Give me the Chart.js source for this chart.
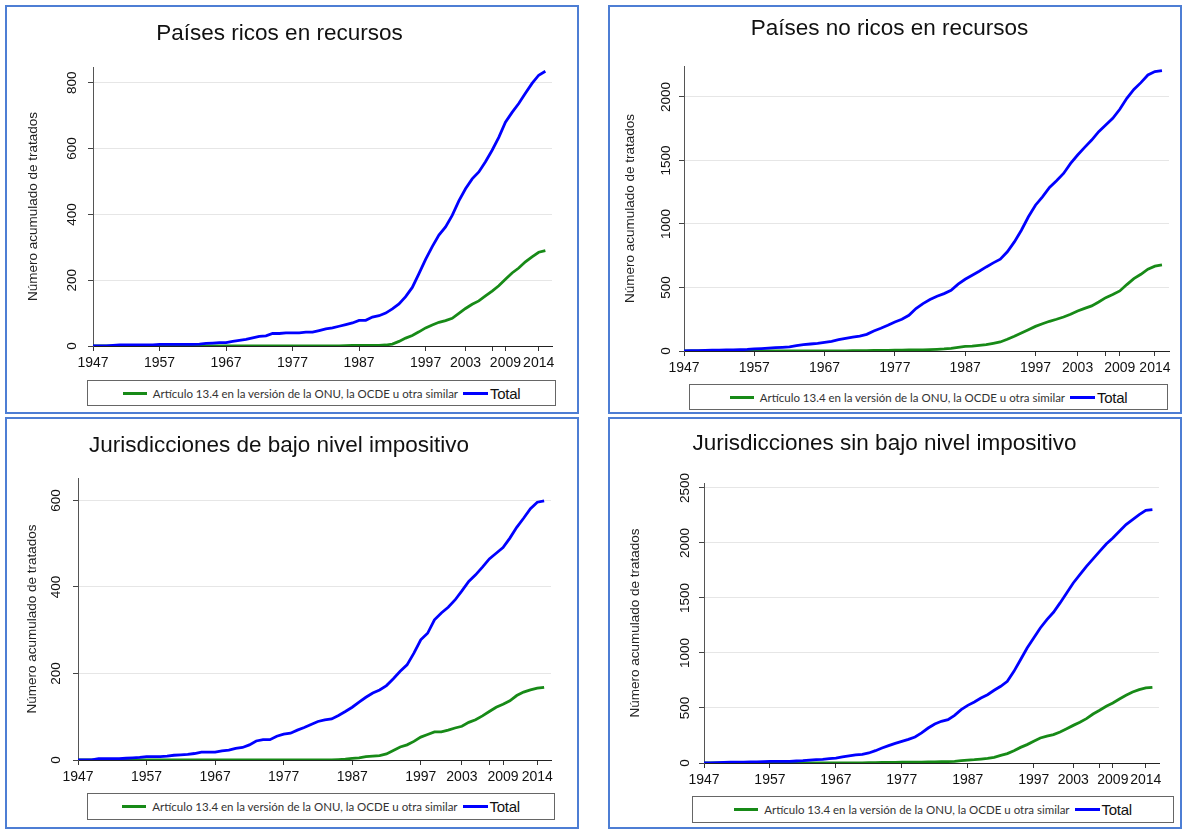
<!DOCTYPE html>
<html lang="es">
<head>
<meta charset="utf-8">
<title>Tratados acumulados</title>
<script src="https://cdn.jsdelivr.net/npm/chart.js@4.4.1/dist/chart.umd.min.js"></script>
<style>
  body { margin: 0; width: 1185px; height: 829px; background: #fff; position: relative; overflow: hidden; }
  .panel { position: absolute; box-sizing: border-box; border: 2px solid #4d7ed4; background: #fff; }
  .panel canvas { position: absolute; left: 0; top: 0; }
  .legend { position: absolute; box-sizing: border-box; border: 1.5px solid #666; background: #fff;
            display: flex; align-items: center; justify-content: center; }
  .item { display: flex; align-items: center; }
  .swatch { display: inline-block; height: 3px; }
  .item0 .swatch { width: 24px; margin-right: 6px; }
  .item0 .txt { font: 11.5px Lato, "Liberation Sans", sans-serif; color: #333; }
  .item1 { margin-left: 5px; }
  .item1 .swatch { width: 25px; margin-right: 2px; }
  .item1 .txt { font: 15px "Liberation Sans", Arial, sans-serif; color: #111; letter-spacing: -0.3px; }
</style>
</head>
<body>

<div class="panel" style="left:5px; top:5px; width:574px; height:409px;">
  <canvas id="c1" width="570" height="373"></canvas>
  <div class="legend" id="l1" style="left:80px; top:373px; width:469px; height:26px;"></div>
</div>
<div class="panel" style="left:608px; top:5px; width:574px; height:409px;">
  <canvas id="c2" width="570" height="377"></canvas>
  <div class="legend" id="l2" style="left:79px; top:377px; width:479px; height:26px;"></div>
</div>
<div class="panel" style="left:5px; top:417px; width:574px; height:412px;">
  <canvas id="c3" width="570" height="374"></canvas>
  <div class="legend" id="l3" style="left:80px; top:374px; width:468px; height:27px;"></div>
</div>
<div class="panel" style="left:608px; top:417px; width:574px; height:412px;">
  <canvas id="c4" width="570" height="377"></canvas>
  <div class="legend" id="l4" style="left:82px; top:377px; width:482px; height:27px;"></div>
</div>

<script>
// years 1947-2015
const years = [
  1947, 1948, 1949, 1950, 1951, 1952, 1953, 1954, 1955, 1956,
  1957, 1958, 1959, 1960, 1961, 1962, 1963, 1964, 1965, 1966,
  1967, 1968, 1969, 1970, 1971, 1972, 1973, 1974, 1975, 1976,
  1977, 1978, 1979, 1980, 1981, 1982, 1983, 1984, 1985, 1986,
  1987, 1988, 1989, 1990, 1991, 1992, 1993, 1994, 1995, 1996,
  1997, 1998, 1999, 2000, 2001, 2002, 2003, 2004, 2005, 2006,
  2007, 2008, 2009, 2010, 2011, 2012, 2013, 2014, 2015
];

const xTicks = [1947, 1957, 1967, 1977, 1987, 1997, 2003, 2007, 2009, 2014];
const xTickLabels = ["1947", "1957", "1967", "1977", "1987", "1997", "2003", "", "2009", "2014"];

const yTicks1 = [0, 200, 400, 600, 800];
const yTicks2 = [0, 500, 1000, 1500, 2000];
const yTicks3 = [0, 200, 400, 600];
const yTicks4 = [0, 500, 1000, 1500, 2000, 2500];

const titles = [
  "Países ricos en recursos",
  "Países no ricos en recursos",
  "Jurisdicciones de bajo nivel impositivo",
  "Jurisdicciones sin bajo nivel impositivo"
];
const seriesNames = ["Artículo 13.4 en la versión de la ONU, la OCDE u otra similar", "Total"];
const yTitle = "Número acumulado de tratados";

// Países ricos en recursos
const art1 = [
  0, 0, 0, 0, 0, 0, 0, 0, 0, 0,
  0, 0, 0, 0, 0, 0, 0, 0, 0, 0,
  0, 0, 0, 0, 0, 0, 0, 0, 0, 0,
  0, 0, 0, 0, 0, 0, 0, 0, 1, 2,
  2, 2, 2, 2, 3, 6, 14, 24, 32, 43,
  55, 64, 72, 77, 84, 99, 114, 127, 137, 152,
  167, 183, 203, 222, 237, 256, 271, 285, 290
];
const tot1 = [
  0, 0, 0, 2, 3, 3, 3, 3, 3, 3,
  5, 5, 5, 5, 5, 5, 6, 8, 9, 10,
  10, 14, 17, 20, 25, 29, 31, 38, 38, 40,
  40, 40, 42, 42, 47, 52, 55, 60, 65, 70,
  78, 78, 88, 92, 100, 113, 128, 150, 178, 220,
  263, 302, 337, 362, 397, 441, 478, 508, 529, 560,
  595, 634, 680, 710, 737, 768, 798, 823, 835
];

// Países no ricos en recursos
const art2 = [
  0, 0, 0, 0, 0, 0, 0, 0, 0, 0,
  0, 0, 0, 0, 0, 0, 0, 0, 0, 1,
  1, 1, 1, 1, 2, 2, 3, 4, 5, 5,
  6, 7, 8, 8, 9, 11, 13, 16, 21, 29,
  37, 39, 45, 50, 60, 71, 92, 116, 142, 168,
  194, 215, 234, 250, 268, 289, 315, 336, 355, 386,
  420, 444, 473, 523, 570, 604, 644, 668, 678
];
const tot2 = [
  0, 2, 3, 5, 6, 7, 8, 9, 10, 12,
  16, 19, 22, 26, 29, 33, 42, 50, 55, 60,
  68, 76, 89, 100, 110, 118, 131, 158, 179, 202,
  229, 250, 281, 334, 373, 405, 431, 452, 478, 526,
  565, 597, 628, 662, 694, 723, 781, 859, 951, 1057,
  1148, 1214, 1288, 1340, 1398, 1477, 1543, 1603, 1661, 1727,
  1779, 1832, 1903, 1990, 2060, 2113, 2173, 2200, 2208
];

// Jurisdicciones de bajo nivel impositivo
const art3 = [
  0, 0, 0, 0, 0, 0, 0, 0, 0, 0,
  0, 0, 0, 0, 0, 0, 0, 0, 0, 0,
  0, 0, 0, 0, 0, 0, 0, 0, 0, 0,
  0, 0, 0, 0, 0, 0, 0, 0, 1, 2,
  4, 5, 8, 9, 10, 14, 22, 30, 35, 43,
  53, 59, 65, 65, 69, 74, 78, 87, 93, 102,
  112, 122, 129, 137, 149, 157, 162, 166, 168
];
const tot3 = [
  0, 0, 0, 3, 3, 3, 3, 4, 5, 6,
  8, 8, 8, 9, 11, 12, 13, 15, 18, 18,
  18, 21, 23, 27, 29, 35, 44, 47, 47, 55,
  60, 62, 69, 75, 82, 89, 93, 95, 103, 112,
  122, 134, 145, 155, 162, 172, 188, 205, 220, 247,
  278, 293, 324, 340, 353, 370, 391, 413, 428, 446,
  465, 478, 491, 513, 538, 559, 581, 596, 599
];

// Jurisdicciones sin bajo nivel impositivo
const art4 = [
  0, 0, 0, 0, 0, 0, 0, 0, 0, 0,
  0, 0, 0, 0, 0, 0, 0, 0, 0, 0,
  0, 1, 1, 2, 2, 3, 4, 5, 5, 6,
  7, 7, 8, 8, 9, 10, 12, 13, 15, 21,
  27, 30, 36, 42, 52, 70, 85, 112, 142, 167,
  197, 227, 245, 258, 282, 312, 342, 370, 403, 445,
  479, 515, 545, 582, 615, 645, 667, 682, 688
];
const tot4 = [
  0, 2, 4, 6, 7, 8, 8, 9, 9, 12,
  15, 15, 15, 15, 18, 21, 27, 30, 33, 39,
  45, 55, 64, 73, 79, 91, 112, 136, 158, 179,
  197, 215, 236, 273, 318, 355, 379, 394, 433, 485,
  524, 555, 591, 621, 661, 697, 742, 833, 939, 1045,
  1136, 1227, 1303, 1370, 1455, 1545, 1636, 1712, 1788, 1855,
  1924, 1991, 2045, 2106, 2167, 2212, 2258, 2297, 2303
];

const green = "#178a17";
const blue = "#0000ff";
const arial = "'Liberation Sans', Arial, sans-serif";

function toPoints(vals) {
  return vals.map(function (v, i) { return { x: years[i], y: v }; });
}

const htmlLegend = {
  id: "htmlLegend",
  afterUpdate(chart, args, opts) {
    const box = document.getElementById(opts.containerID);
    box.innerHTML = "";
    chart.data.datasets.forEach(function (ds, i) {
      const item = document.createElement("div");
      item.className = "item item" + i;
      const sw = document.createElement("span");
      sw.className = "swatch";
      sw.style.background = ds.borderColor;
      const tx = document.createElement("span");
      tx.className = "txt";
      tx.textContent = ds.label;
      item.append(sw, tx);
      box.appendChild(item);
    });
  }
};

function makeChart(cfg) {
  return new Chart(document.getElementById(cfg.canvas), {
    type: "line",
    data: {
      datasets: [
        { label: seriesNames[0], data: toPoints(cfg.art), borderColor: green, order: 1 },
        { label: seriesNames[1], data: toPoints(cfg.total), borderColor: blue, order: 0 }
      ]
    },
    options: {
      responsive: false,
      animation: false,
      events: [],
      elements: {
        point: { radius: 0 },
        line: { borderWidth: 2.8, tension: 0 }
      },
      layout: { padding: { left: 0, top: 0, right: cfg.padRight, bottom: cfg.padBottom } },
      scales: {
        x: {
          type: "linear",
          min: 1947,
          max: 2016,
          afterBuildTicks: function (scale) {
            scale.ticks = xTicks.map(function (v) { return { value: v }; });
          },
          afterFit: function (scale) { scale.height = 28; },
          grid: { drawOnChartArea: false, drawTicks: true, tickLength: 5, color: "#333" },
          border: { display: true, color: "#222", width: 1 },
          ticks: {
            autoSkip: false,
            maxRotation: 0,
            padding: 4,
            color: "#111",
            font: { family: arial, size: 14 },
            callback: function (v, i) { return xTickLabels[i]; }
          }
        },
        y: {
          min: 0,
          max: cfg.yMax,
          afterBuildTicks: function (scale) {
            scale.ticks = cfg.yTicks.map(function (v) { return { value: v }; });
          },
          afterFit: function (scale) { scale.width = cfg.yWidth; },
          grid: { color: "#e6e6e6", lineWidth: 1, tickColor: "#444", tickLength: 5 },
          border: { display: true, color: "#555", width: 1 },
          ticks: {
            minRotation: 90,
            maxRotation: 90,
            crossAlign: "center",
            padding: cfg.tickPad,
            color: "#111",
            font: { family: arial, size: 13.5 },
            callback: function (v) { return String(v); }
          },
          title: {
            display: true,
            text: yTitle,
            color: "#222",
            font: { family: arial, size: 13.5 },
            padding: { top: cfg.yTitlePad, bottom: 0 }
          }
        }
      },
      plugins: {
        legend: { display: false },
        tooltip: { enabled: false },
        title: {
          display: true,
          text: cfg.title,
          color: "#111",
          font: { family: arial, size: 22.5, weight: "normal" },
          padding: { top: cfg.titleTop, bottom: cfg.titleBottom }
        },
        htmlLegend: { containerID: cfg.legend }
      }
    },
    plugins: [htmlLegend]
  });
}

makeChart({ canvas: "c1", legend: "l1", title: titles[0], art: art1, total: tot1,
  yMax: 848, yTicks: yTicks1, yWidth: 86, tickPad: 4, yTitlePad: 18,
  padRight: 25, padBottom: 6, titleTop: 13.5, titleBottom: 19.5 });

makeChart({ canvas: "c2", legend: "l2", title: titles[1], art: art2, total: tot2,
  yMax: 2244, yTicks: yTicks2, yWidth: 74, tickPad: -2, yTitlePad: 12,
  padRight: 11, padBottom: 5, titleTop: 8.5, titleBottom: 23.5 });

makeChart({ canvas: "c3", legend: "l3", title: titles[2], art: art3, total: tot3,
  yMax: 652, yTicks: yTicks3, yWidth: 71, tickPad: 5, yTitlePad: 17,
  padRight: 26, padBottom: 5, titleTop: 13.5, titleBottom: 18.5 });

makeChart({ canvas: "c4", legend: "l4", title: titles[3], art: art4, total: tot4,
  yMax: 2545, yTicks: yTicks4, yWidth: 94, tickPad: -1, yTitlePad: 17,
  padRight: 21, padBottom: 5, titleTop: 11.5, titleBottom: 25.5 });
</script>
</body>
</html>
